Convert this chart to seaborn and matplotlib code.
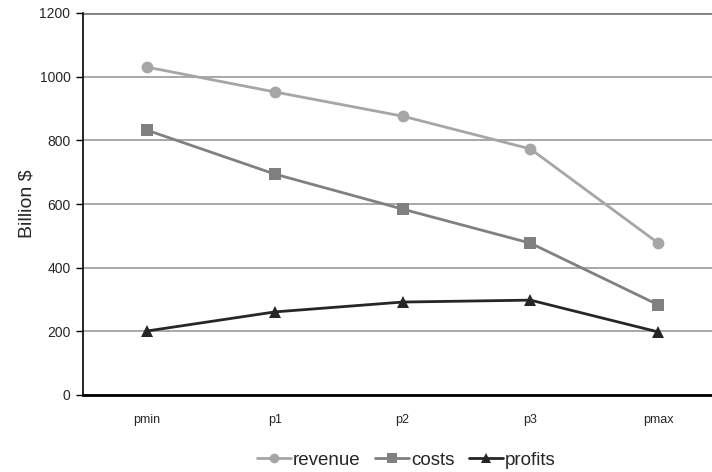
import numpy as np
import pandas as pd
import matplotlib.pyplot as plt
import seaborn as sns

# veriler
categories = ['pmin', 'p1', 'p2', 'p3', 'pmax']
revenue = [1030, 952, 876, 773, 477]
costs = [832, 694, 584, 477, 283]
profits = [201, 261, 292, 298, 198]

df = pd.DataFrame({
    'x': list(range(len(categories))) * 3,
    'value': revenue + costs + profits,
    'series': ['revenue'] * 5 + ['costs'] * 5 + ['profits'] * 5,
})

sns.set_style('white')
plt.rcParams['font.family'] = ['Liberation Sans', 'DejaVu Sans']

fig = plt.figure(figsize=(7.12, 4.72), dpi=100)
ax = fig.add_axes([83 / 712, 1 - 395 / 472, 1 - 83 / 712, 382 / 472])

palette = {'revenue': '#a6a6a6', 'costs': '#808080', 'profits': '#262626'}
markers = {'revenue': 'o', 'costs': 's', 'profits': '^'}
sns.lineplot(data=df, x='x', y='value', hue='series', style='series',
             palette=palette, markers=markers, dashes=False, markersize=8.5,
             markeredgewidth=0, linewidth=2, ax=ax, legend=False, zorder=3)

ax.set_xlim(-0.5, 4.42)
ax.set_ylim(0, 1200)
ax.set_yticks(range(0, 1201, 200))
ax.set_yticklabels([str(v) for v in range(0, 1201, 200)], fontsize=10)
ax.set_xticks(range(len(categories)))
ax.set_xticklabels(categories, fontsize=9)
ax.set_xticks(np.arange(-0.5, 4.5, 1), minor=True)
ax.tick_params(axis='x', which='major', length=0, pad=14)
ax.tick_params(axis='x', which='minor', length=5, width=1.2, direction='out', color='black')
ax.tick_params(axis='y', length=5, width=1, direction='out', color='black', pad=4, left=True)
ax.grid(axis='y', color='#999999', linewidth=1.2)
ax.grid(axis='x', visible=False)
ax.axhline(1200, color='#808080', linewidth=2, zorder=2)
for s in ['top', 'right']:
    ax.spines[s].set_visible(False)
ax.spines['left'].set_color('black')
ax.spines['left'].set_linewidth(1.2)
ax.spines['bottom'].set_color('black')
ax.spines['bottom'].set_linewidth(2)
ax.set_xlabel('')
ax.set_ylabel('Billion $', fontsize=14, labelpad=3)

handles = [plt.Line2D([], [], color=palette[k], marker=markers[k], markersize=7,
                      markeredgewidth=0, linewidth=2, label=k) for k in palette]
fig.legend(handles=handles, loc='center', bbox_to_anchor=(0.571, 0.025), ncol=3,
           frameon=False, fontsize=13.5, handlelength=1.8, handletextpad=0.1,
           columnspacing=0.8)

fig.savefig('out.png', dpi=100)
